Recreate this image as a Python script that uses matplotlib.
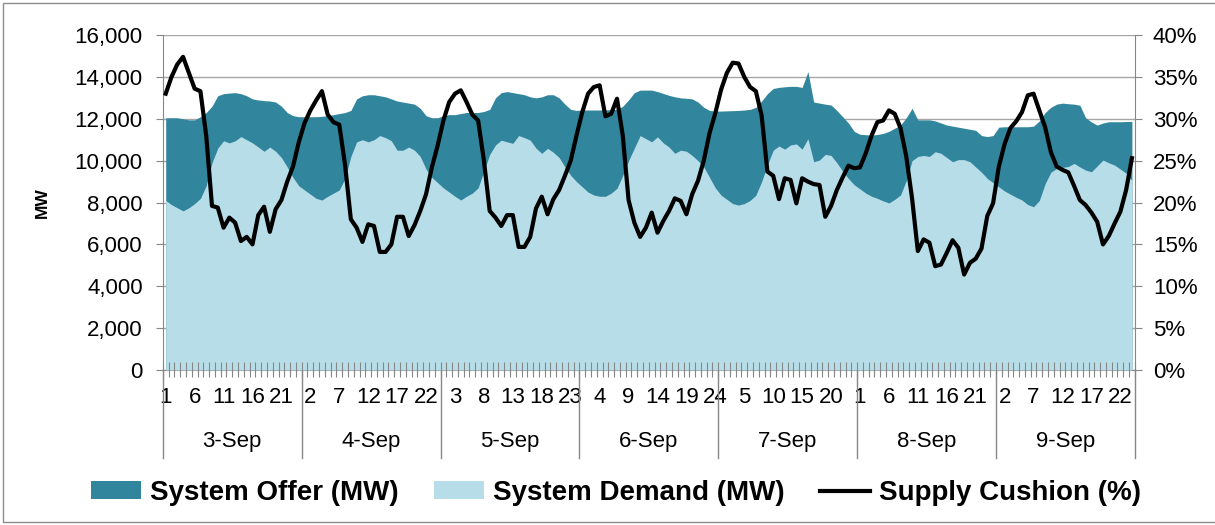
import numpy as np
import matplotlib.pyplot as plt
import matplotlib.transforms as mtransforms
from matplotlib.ticker import FuncFormatter
from matplotlib.lines import Line2D
from matplotlib.patches import Patch, Rectangle

plt.rcParams["font.family"] = ["Liberation Sans", "DejaVu Sans"]

days = ["3-Sep", "4-Sep", "5-Sep", "6-Sep", "7-Sep", "8-Sep", "9-Sep"]

# hourly values, 24 per day
offer_mw = [
    12050, 12050, 12050, 12000, 11950, 11950, 12100, 12300, 12600, 13100, 13200, 13230, 13250, 13200, 13100, 12950, 12900, 12870, 12850, 12800, 12600, 12300, 12150, 12100,
    12100, 12100, 12100, 12120, 12150, 12200, 12250, 12300, 12400, 12950, 13100, 13150, 13150, 13100, 13050, 12950, 12850, 12800, 12750, 12700, 12500, 12150, 12050, 12050,
    12150, 12200, 12200, 12250, 12300, 12300, 12300, 12350, 12450, 13000, 13250, 13300, 13250, 13200, 13150, 13050, 13000, 13050, 13150, 13150, 13000, 12700, 12450, 12400,
    12420, 12420, 12420, 12420, 12430, 12430, 12450, 12600, 12900, 13250, 13370, 13370, 13370, 13300, 13210, 13120, 13050, 13000, 12980, 12950, 12800, 12550, 12400, 12370,
    12370, 12380, 12390, 12400, 12420, 12450, 12550, 12850, 13200, 13450, 13500, 13530, 13550, 13550, 13500, 14250, 12800, 12750, 12700, 12660, 12400, 12100, 11800, 11400,
    11260, 11240, 11220, 11250, 11300, 11400, 11550, 11700, 12050, 12500, 11950, 11950, 11950, 11900, 11800, 11700, 11650, 11600, 11550, 11500, 11450, 11200, 11150, 11200,
    11600, 11620, 11620, 11620, 11620, 11620, 11650, 11900, 12300, 12550, 12700, 12750, 12720, 12700, 12650, 12050, 11850, 11700, 11800, 11860, 11860, 11860, 11870, 11870,
]
demand_mw = [
    8100, 7900, 7750, 7600, 7750, 7950, 8200, 8800, 9900, 10600, 10950, 10850, 10950, 11150, 11000, 10850, 10650, 10450, 10650, 10450, 10150, 9700, 9200, 8800,
    8600, 8400, 8200, 8120, 8300, 8450, 8600, 9150, 10200, 10900, 11000, 10900, 11000, 11200, 11100, 10950, 10500, 10500, 10650, 10500, 10200, 9600, 9200, 8950,
    8700, 8500, 8300, 8120, 8300, 8450, 8700, 9500, 10300, 10750, 10980, 10900, 10830, 11200, 11100, 10980, 10600, 10350, 10590, 10400, 10150, 9700, 9300, 9000,
    8750, 8500, 8360, 8300, 8300, 8450, 8680, 9300, 10000, 10600, 11200, 11050, 10900, 11140, 10850, 10650, 10350, 10500, 10450, 10250, 10000, 9700, 9200, 8700,
    8350, 8150, 7950, 7880, 7950, 8100, 8350, 9000, 9800, 10500, 10700, 10550, 10750, 10800, 10550, 11050, 9950, 10030, 10300, 10250, 9900, 9500, 9150, 8850,
    8650, 8450, 8300, 8200, 8080, 7980, 8150, 8360, 9050, 10000, 10200, 10250, 10200, 10430, 10350, 10150, 9950, 10050, 10050, 9950, 9700, 9450, 9150, 8950,
    8750, 8550, 8400, 8250, 8120, 7900, 7800, 8100, 8900, 9450, 9630, 9680, 9720, 9870, 9700, 9550, 9470, 9750, 10030, 9900, 9790, 9600, 9400, 9050,
]
cushion_pct = [
    33.0, 35.0, 36.5, 37.4, 35.5, 33.6, 33.3, 28.0, 19.6, 19.4, 17.0, 18.2, 17.6, 15.4, 15.9, 15.0, 18.5, 19.5, 16.5, 19.2, 20.3, 22.5, 24.3, 27.2,
    29.5, 31.0, 32.2, 33.3, 30.5, 29.6, 29.3, 24.5, 18.0, 17.0, 15.3, 17.4, 17.2, 14.1, 14.1, 15.0, 18.3, 18.3, 16.0, 17.3, 19.0, 21.0, 24.2, 26.8,
    29.8, 32.0, 33.0, 33.4, 32.0, 30.5, 29.8, 25.0, 19.0, 18.2, 17.2, 18.5, 18.5, 14.7, 14.7, 15.9, 19.3, 20.7, 18.6, 20.4, 21.5, 23.2, 25.0, 28.0,
    30.8, 33.0, 33.8, 34.0, 30.3, 30.6, 32.4, 28.0, 20.3, 17.6, 15.9, 17.0, 18.8, 16.4, 17.8, 19.0, 20.5, 20.2, 18.6, 21.0, 22.6, 25.0, 28.3, 30.7,
    33.5, 35.5, 36.7, 36.6, 35.0, 33.8, 33.3, 30.4, 23.7, 23.2, 20.4, 22.9, 22.7, 19.9, 22.9, 22.5, 22.2, 22.1, 18.3, 19.6, 21.5, 23.0, 24.4, 24.1,
    24.2, 25.9, 28.0, 29.6, 29.8, 31.0, 30.6, 28.9, 25.5, 20.5, 14.2, 15.6, 15.2, 12.4, 12.6, 14.0, 15.5, 14.6, 11.4, 12.8, 13.3, 14.5, 18.4, 19.9,
    24.3, 27.0, 28.9, 29.7, 30.8, 32.8, 33.0, 31.0, 29.0, 26.0, 24.3, 23.9, 23.6, 22.0, 20.3, 19.7, 18.8, 17.7, 15.0, 16.0, 17.5, 18.9, 21.5, 25.3,
]

OFFER_C = "#31859C"
DEMAND_C = "#B7DEE8"
GRID_C = "#A6A6A6"
AXIS_C = "#868686"
FS = 16

n = len(offer_mw)
x = np.arange(n)
hours = [(i % 24) + 1 for i in x]

fig = plt.figure(figsize=(12.15, 5.25), dpi=100)
ax = fig.add_axes([0.134, 0.2952, 0.800, 0.638])

ax.fill_between(x, 0, offer_mw, color=OFFER_C, lw=0, zorder=2)
ax.fill_between(x, 0, demand_mw, color=DEMAND_C, lw=0, zorder=3)
ax.set_xlim(-0.5, n - 0.5)
ax.set_ylim(0, 16000)
ax.set_yticks(np.arange(0, 16001, 2000))
ax.yaxis.set_major_formatter(FuncFormatter(lambda v, p: f"{v:,.0f}"))
ax.grid(axis="y", color=GRID_C, lw=1)
ax.set_axisbelow(True)
ax.set_ylabel("MW", fontsize=12.5, fontweight="bold", labelpad=18)

# hour labels every 5 categories
ax.set_xticks(x[::5])
ax.set_xticklabels([str(hours[i]) for i in x[::5]])
ax.tick_params(axis="x", which="major", length=0, pad=12, labelsize=FS)
ax.tick_params(axis="y", length=5, color=AXIS_C, labelsize=FS, pad=9.5)

# category boundary tick marks, crossing the axis and drawn over the areas
trans = mtransforms.blended_transform_factory(ax.transData, ax.transAxes)
ax.vlines(np.arange(n + 1) - 0.5, -0.02, 0.025, transform=trans,
          color=AXIS_C, lw=0.8, zorder=4, clip_on=False)

for side in ["top", "right"]:
    ax.spines[side].set_visible(False)
for side in ["left", "bottom"]:
    ax.spines[side].set_color(AXIS_C)

ax2 = ax.twinx()
ax2.plot(x, cushion_pct, color="black", lw=3, solid_joinstyle="round", zorder=5)
ax2.set_ylim(0, 40)
ax2.set_yticks(np.arange(0, 41, 5))
ax2.yaxis.set_major_formatter(FuncFormatter(lambda v, p: f"{v:.0f}%"))
ax2.tick_params(axis="y", length=5, color=AXIS_C, labelsize=FS, pad=8)
for side in ["top", "left", "bottom"]:
    ax2.spines[side].set_visible(False)
ax2.spines["right"].set_color(AXIS_C)

# day group dividers and labels below the hour labels
for d in range(len(days) + 1):
    ax.plot([24 * d - 0.5] * 2, [0, -0.263], transform=trans, color=AXIS_C,
            lw=1, clip_on=False)
for d, lab in enumerate(days):
    ax.text(24 * d + 11.5, -0.212, lab, transform=trans, ha="center",
            va="center", fontsize=FS)

handles = [
    Patch(facecolor=OFFER_C, edgecolor="none", label="System Offer (MW)"),
    Patch(facecolor=DEMAND_C, edgecolor="none", label="System Demand (MW)"),
    Line2D([], [], color="black", lw=3, label="Supply Cushion (%)"),
]
fig.legend(handles=handles, loc="center", bbox_to_anchor=(0.507, 0.061),
           ncol=3, frameon=False, prop={"weight": "bold", "size": 20},
           handlelength=1.8, handleheight=0.6, columnspacing=1.3,
           handletextpad=0.3)

fig.add_artist(Rectangle((3 / 1215, 3 / 525), 1.0, 519 / 525,
                         transform=fig.transFigure, fill=False,
                         edgecolor="#8C8C8C", lw=1))

fig.savefig("out.png", dpi=100)
